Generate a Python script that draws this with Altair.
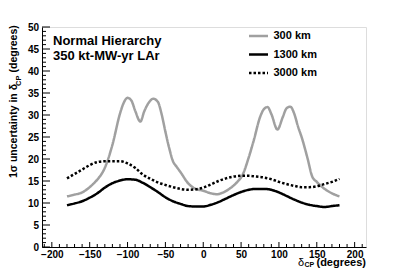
import altair as alt
import pandas as pd

# ---- data ----
baselines = ["300 km", "1300 km", "3000 km"]
line_colors = ["#a0a0a0", "#000000", "#000000"]
line_dashes = [[1, 0], [1, 0], [2.5, 2]]

deg_300 = [-180, -170, -160, -150, -145, -140, -130, -120, -110, -105, -100, -95, -90, -83,
           -78, -72, -66, -60, -55, -50, -45, -40, -35, -30, -20, -10, 0, 10, 18, 25, 36,
           45, 52, 60, 67, 75, 80, 85, 90, 98, 105, 110, 115, 120, 125, 131, 138, 144,
           150, 162, 170, 180]
unc_300 = [11.5, 11.9, 12.4, 13.6, 14.4, 15.3, 18.0, 23.2, 30.3, 32.8, 33.9, 33.3, 31.0, 28.5,
           30.8, 32.8, 33.7, 33.0, 30.2, 26.2, 22.5, 19.5, 18.2, 17.0, 14.5, 13.2, 12.8, 12.2,
           12.0, 12.3, 13.4, 14.8, 16.4, 20.3, 24.4, 29.5, 31.3, 31.8, 30.2, 26.7, 29.5, 31.5,
           31.9, 30.4, 27.5, 24.4, 20.0, 16.0, 14.8, 13.0, 12.2, 11.5]

deg_grid = [-180, -170, -160, -150, -140, -130, -120, -110, -100, -90, -80, -70, -60, -50,
            -40, -30, -20, -10, 0, 10, 20, 30, 40, 50, 60, 70, 80, 90, 100, 110, 120, 130,
            140, 150, 160, 170, 180]
unc_1300 = [9.5, 9.9, 10.4, 11.2, 12.2, 13.5, 14.5, 15.1, 15.4, 15.3, 14.6, 13.6, 12.5, 11.3,
            10.4, 9.8, 9.3, 9.2, 9.2, 9.6, 10.2, 11.0, 11.8, 12.5, 13.0, 13.2, 13.2, 13.0,
            12.4, 11.6, 10.8, 10.1, 9.6, 9.3, 9.1, 9.3, 9.5]
unc_3000 = [15.6, 16.6, 17.6, 18.6, 19.3, 19.5, 19.5, 19.5, 19.0, 18.0, 16.5, 15.5, 14.7, 14.1,
            13.6, 13.2, 13.0, 13.1, 13.5, 14.2, 15.0, 15.6, 16.0, 16.2, 16.2, 16.0, 15.8, 15.4,
            14.8, 14.3, 13.9, 13.6, 13.6, 13.8, 14.3, 14.8, 15.5]

x_labels = [-200, -150, -100, -50, 0, 50, 100, 150, 200]
y_labels = [0, 5, 10, 15, 20, 25, 30, 35, 40, 45, 50]
x_minor = [-210, -190, -180, -170, -160, -140, -130, -120, -110, -90, -80, -70, -60, -40, -30,
           -20, -10, 10, 20, 30, 40, 60, 70, 80, 90, 110, 120, 130, 140, 160, 170, 180, 190, 210]
y_minor = [1, 2, 3, 4, 6, 7, 8, 9, 11, 12, 13, 14, 16, 17, 18, 19, 21, 22, 23, 24, 26, 27, 28,
           29, 31, 32, 33, 34, 36, 37, 38, 39, 41, 42, 43, 44, 46, 47, 48, 49]

title_lines = ["Normal Hierarchy", "350 kt-MW-yr LAr"]

# ---- build table ----
rows = []
for d, u in zip(deg_300, unc_300):
    rows.append({"delta": d, "unc": u, "baseline": baselines[0]})
for d, u in zip(deg_grid, unc_1300):
    rows.append({"delta": d, "unc": u, "baseline": baselines[1]})
for d, u in zip(deg_grid, unc_3000):
    rows.append({"delta": d, "unc": u, "baseline": baselines[2]})
df = pd.DataFrame(rows)

W, H = 324, 220
FONT = "Liberation Sans"
xs = alt.Scale(domain=[-213, 215], nice=False, zero=False)
ys = alt.Scale(domain=[0, 50], nice=False, zero=False)

x_axis = alt.Axis(values=x_labels, title=None, ticks=False, tickSize=0, grid=False,
                  labelPadding=2.5, labelFont=FONT, labelFontSize=10,
                  labelFontWeight="bold", labelColor="black", labelFlush=False,
                  domainColor="black", domainWidth=1)
y_axis = alt.Axis(values=y_labels, title=None, ticks=False, tickSize=0, grid=False,
                  labelPadding=3.5, labelFont=FONT, labelFontSize=10,
                  labelFontWeight="bold", labelColor="black", labelFlush=False,
                  domainColor="black", domainWidth=1)

lines = alt.Chart(df).mark_line(strokeWidth=2.5, strokeCap="butt", strokeJoin="round",
                                interpolate="monotone").encode(
    x=alt.X("delta:Q", scale=xs, axis=x_axis),
    y=alt.Y("unc:Q", scale=ys, axis=y_axis),
    color=alt.Color("baseline:N", scale=alt.Scale(domain=baselines, range=line_colors),
                    legend=None),
    strokeDash=alt.StrokeDash("baseline:N", scale=alt.Scale(domain=baselines, range=line_dashes),
                              legend=None),
)

# inside ticks
y_major = alt.Chart(pd.DataFrame({"v": y_labels})).mark_rule(color="black", strokeWidth=1).encode(
    y=alt.Y("v:Q", scale=ys, axis=y_axis), x=alt.value(0), x2=alt.value(8))
y_min = alt.Chart(pd.DataFrame({"v": y_minor})).mark_rule(color="black", strokeWidth=1).encode(
    y=alt.Y("v:Q", scale=ys, axis=y_axis), x=alt.value(0), x2=alt.value(4))
x_major = alt.Chart(pd.DataFrame({"v": x_labels})).mark_rule(color="black", strokeWidth=1).encode(
    x=alt.X("v:Q", scale=xs, axis=x_axis), y=alt.value(H), y2=alt.value(H - 5))
x_min = alt.Chart(pd.DataFrame({"v": x_minor})).mark_rule(color="black", strokeWidth=1).encode(
    x=alt.X("v:Q", scale=xs, axis=x_axis), y=alt.value(H), y2=alt.value(H - 3))

layers = [lines, y_major, y_min, x_major, x_min]

# legend (manual)
leg_y = [9, 27.5, 46]
for name, col, dash, yy in zip(baselines, line_colors, line_dashes, leg_y):
    one = pd.DataFrame({"t": [name]})
    layers.append(alt.Chart(one).mark_rule(color=col, strokeWidth=2.5, strokeDash=dash,
                                           strokeCap="butt").encode(
        x=alt.value(207), x2=alt.value(226), y=alt.value(yy)))
    layers.append(alt.Chart(one).mark_text(align="left", baseline="middle", font=FONT,
                                           fontSize=11, fontWeight="bold",
                                           color="black").encode(
        text="t:N", x=alt.value(231.5), y=alt.value(yy)))

# annotation text
layers.append(alt.Chart(pd.DataFrame({"t": [title_lines[0]]})).mark_text(
    align="left", baseline="alphabetic", font=FONT, fontSize=13, fontWeight="bold",
    color="black").encode(text="t:N", x=alt.value(11), y=alt.value(17.5)))
layers.append(alt.Chart(pd.DataFrame({"t": [title_lines[1]]})).mark_text(
    align="left", baseline="alphabetic", font=FONT, fontSize=13, fontWeight="bold",
    color="black").encode(text="t:N", x=alt.value(11), y=alt.value(33)))

# x title: δ_CP (degrees)
layers.append(alt.Chart(pd.DataFrame({"t": ["δ"]})).mark_text(
    align="right", baseline="alphabetic", font=FONT, fontSize=11, color="black").encode(
    text="t:N", x=alt.value(262), y=alt.value(238.5)))
layers.append(alt.Chart(pd.DataFrame({"t": ["CP"]})).mark_text(
    align="left", baseline="alphabetic", font=FONT, fontSize=7, fontWeight="bold",
    color="black").encode(text="t:N", x=alt.value(262.5), y=alt.value(239.5)))
layers.append(alt.Chart(pd.DataFrame({"t": ["(degrees)"]})).mark_text(
    align="right", baseline="alphabetic", font=FONT, fontSize=11, fontWeight="bold",
    color="black").encode(text="t:N", x=alt.value(W), y=alt.value(238.5)))

# y title: 1σ uncertainty in δ_CP (degrees), rotated
YT_X = -25
layers.append(alt.Chart(pd.DataFrame({"t": ["1σ uncertainty in δ"]})).mark_text(
    align="left", baseline="alphabetic", angle=270, font=FONT, fontSize=10.5,
    fontWeight="bold", color="black").encode(text="t:N", x=alt.value(YT_X), y=alt.value(151)))
layers.append(alt.Chart(pd.DataFrame({"t": ["CP"]})).mark_text(
    align="left", baseline="alphabetic", angle=270, font=FONT, fontSize=7.5,
    fontWeight="bold", color="black").encode(text="t:N", x=alt.value(YT_X + 3.5),
                                             y=alt.value(59)))
layers.append(alt.Chart(pd.DataFrame({"t": ["(degrees)"]})).mark_text(
    align="left", baseline="alphabetic", angle=270, font=FONT, fontSize=10.5,
    fontWeight="bold", color="black").encode(text="t:N", x=alt.value(YT_X),
                                             y=alt.value(45.5)))

chart = alt.layer(*layers).properties(
    width=W, height=H,
    padding={"left": 34, "top": 19, "right": 33, "bottom": 21},
    autosize=alt.AutoSizeParams(type="none"),
).configure_view(stroke="#333333", strokeWidth=1).configure(background="white")

chart.save("out.html", embed_options={"renderer": "svg", "actions": False})
